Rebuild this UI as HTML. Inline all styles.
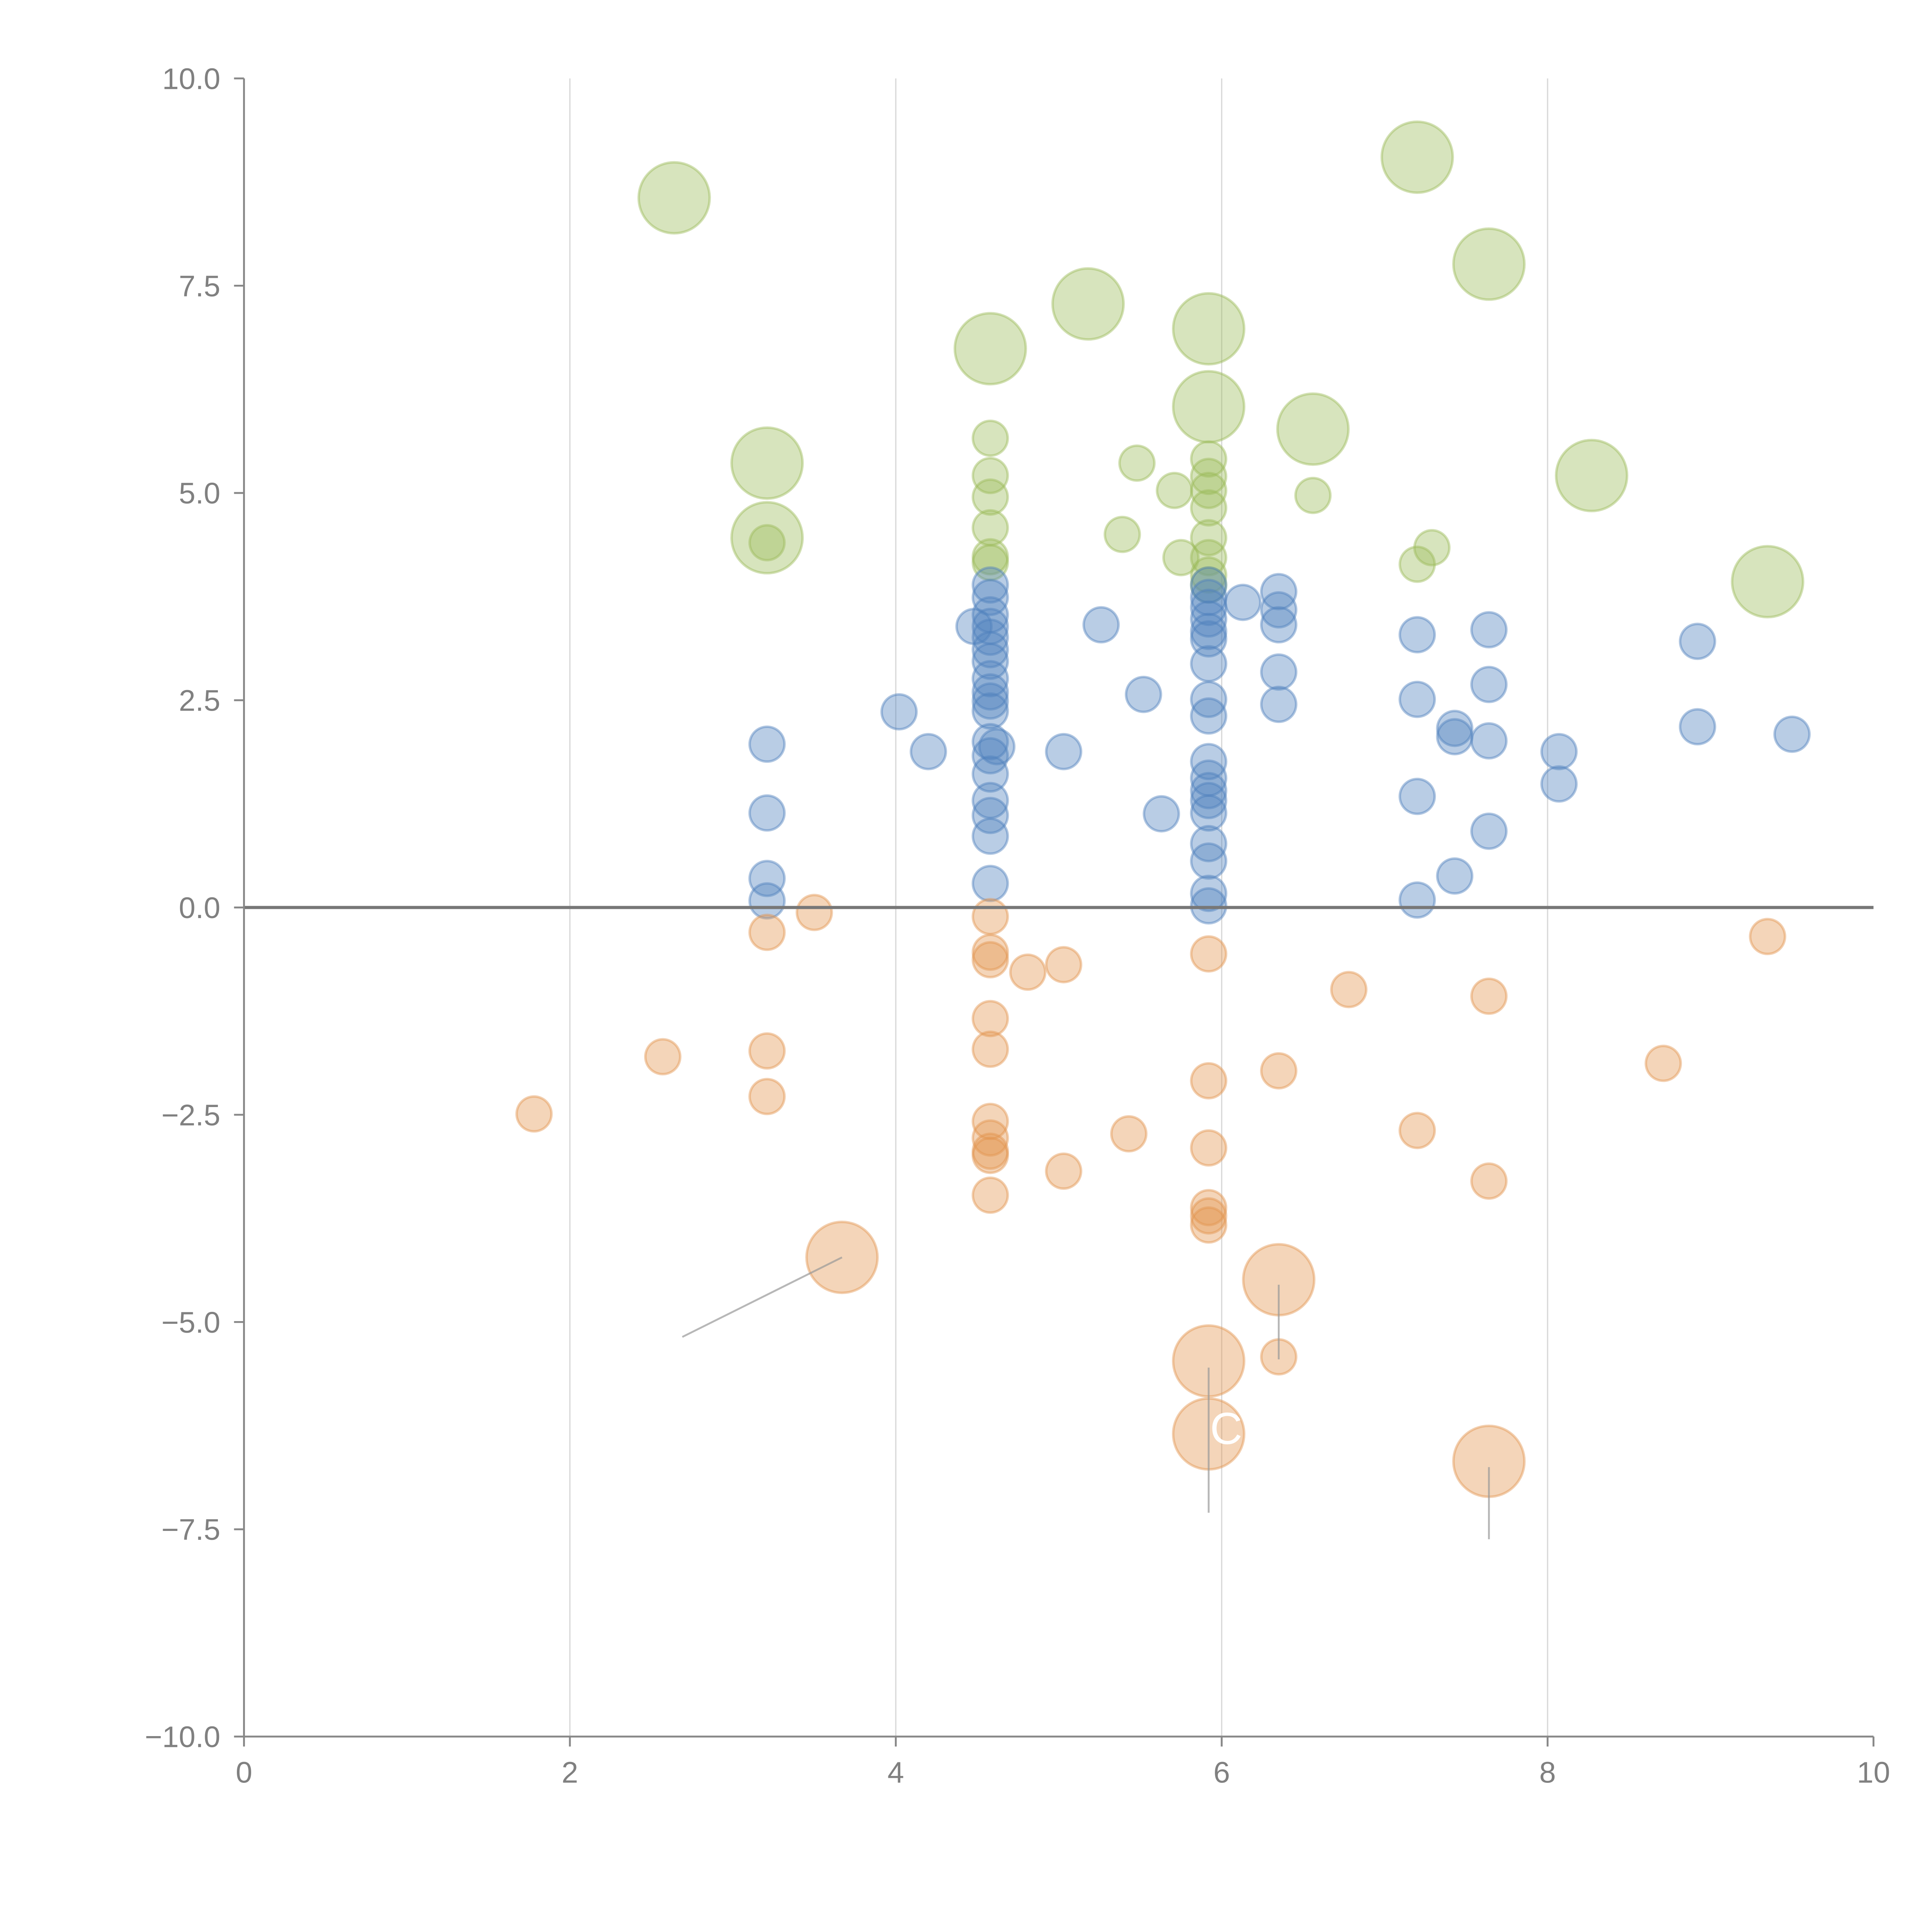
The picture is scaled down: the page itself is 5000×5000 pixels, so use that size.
<!DOCTYPE html>
<html><head><meta charset="utf-8"><style>
html,body{margin:0;padding:0;background:#fff;}
svg{display:block;}
text{font-family:"Liberation Sans",sans-serif;fill:#808080;}
</style></head><body>
<svg id="chart" width="5000" height="5000" viewBox="0 0 1552 1552" xmlns="http://www.w3.org/2000/svg">
<g id="grid"></g>
<g id="marks"></g>
<g id="axes"></g>
</svg>
<script>
const xTicks=[0,2,4,6,8,10];
const yTicks=[-10,-7.5,-5,-2.5,0,2.5,5,7.5,10];
const yTickLabels=["−10.0","−7.5","−5.0","−2.5","0.0","2.5","5.0","7.5","10.0"];
const blueX=[3.21,3.21,3.21,3.21,4.02,4.20,4.48,4.58,4.58,4.58,4.58,4.58,4.58,4.58,4.58,4.58,4.58,4.58,4.58,4.58,4.58,4.58,4.58,4.58,4.58,4.62,5.03,5.26,5.52,5.63,5.92,5.92,5.92,5.92,5.92,5.92,5.92,5.92,5.92,5.92,5.92,5.92,5.92,5.92,5.92,5.92,5.92,5.92,6.13,6.35,6.35,6.35,6.35,6.35,7.20,7.20,7.20,7.20,7.43,7.43,7.43,7.64,7.64,7.64,7.64,8.07,8.07,8.92,8.92,9.50];
const blueY=[1.97,1.14,0.35,0.08,2.36,1.88,3.39,3.89,3.74,3.53,3.39,3.26,3.11,2.97,2.76,2.60,2.49,2.37,2.00,1.83,1.61,1.29,1.11,0.86,0.29,1.94,1.88,3.41,2.57,1.13,3.89,3.74,3.62,3.48,3.33,3.24,2.94,2.51,2.31,1.76,1.56,1.41,1.29,1.14,0.77,0.56,0.17,0.02,3.68,3.81,3.59,3.41,2.84,2.45,3.29,2.51,1.34,0.09,2.16,2.06,0.38,3.35,2.69,2.01,0.92,1.88,1.49,3.21,2.18,2.09];
const orangeX=[1.78,2.57,3.21,3.21,3.21,3.50,4.58,4.58,4.58,4.58,4.58,4.58,4.58,4.58,4.58,4.58,4.81,5.03,5.03,5.43,5.92,5.92,5.92,5.92,5.92,5.92,6.35,6.35,6.78,7.20,7.64,7.64,8.71,9.35];
const orangeY=[-2.49,-1.80,-0.30,-1.73,-2.28,-0.06,-0.11,-0.54,-0.63,-1.34,-1.71,-2.58,-2.78,-2.94,-2.99,-3.47,-0.78,-0.69,-3.18,-2.73,-0.56,-2.09,-2.90,-3.62,-3.72,-3.83,-1.97,-5.42,-0.99,-2.69,-1.07,-3.30,-1.88,-0.35];
const orangeBigX=[3.67,6.35,5.92,5.92,7.64];
const orangeBigY=[-4.22,-4.49,-5.47,-6.35,-6.68];
const greenX=[4.58,4.58,4.58,4.58,4.58,4.58,5.48,5.71,5.39,5.75,5.92,5.92,5.92,5.92,5.92,5.92,5.92,5.92,6.56,7.29,7.20,3.21];
const greenY=[5.66,5.21,4.95,4.58,4.23,4.16,5.36,5.03,4.50,4.22,5.41,5.20,5.03,4.82,4.46,4.22,4.01,3.89,4.97,4.34,4.14,4.40];
const greenBigX=[2.64,7.20,7.64,5.18,4.58,5.92,5.92,6.56,8.27,3.21,3.21,9.35];
const greenBigY=[8.56,9.05,7.76,7.28,6.74,6.98,6.04,5.77,5.21,5.36,4.46,3.93];
const leaderFromX=[3.67,6.35,5.92,7.64];
const leaderFromY=[-4.22,-4.55,-5.55,-6.75];
const leaderToX=[2.69,6.35,5.92,7.64];
const leaderToY=[-5.18,-5.45,-7.30,-7.62];

const NS="http://www.w3.org/2000/svg";
const X0=196,X1=1505,Y0=1395,Y1=63;
function sx(v){return X0+(v-0)/(10-0)*(X1-X0);}
function sy(v){return Y0-(v+10)/20*(Y0-Y1);}
function mk(tag,attrs,parent){const e=document.createElementNS(NS,tag);for(const k in attrs)e.setAttribute(k,attrs[k]);parent.appendChild(e);return e;}
const grid=document.getElementById('grid'),marks=document.getElementById('marks'),axes=document.getElementById('axes');

xTicks.forEach(t=>{if(t>0&&t<10){const l=mk('line',{x1:sx(t),x2:sx(t),y1:Y1,y2:Y0,stroke:'#d8d8d8','stroke-width':1},grid);

}});

function bubbles(xs,ys,r,col,name){
  for(let i=0;i<xs.length;i++){
    const c=mk('circle',{cx:sx(xs[i]),cy:sy(ys[i]),r:r,fill:col,'fill-opacity':0.4,stroke:col,'stroke-opacity':0.45,'stroke-width':2},marks);
    
    
  }
}
bubbles(greenBigX,greenBigY,28.5,'#9bbb59','green-large-bubble');
bubbles(greenX,greenY,14,'#9bbb59','green-bubble');
bubbles(blueX,blueY,14,'#4f81bd','blue-bubble');
bubbles(orangeX,orangeY,14,'#e39550','orange-bubble');
bubbles(orangeBigX,orangeBigY,28.5,'#e39550','orange-large-bubble');

for(let i=0;i<leaderFromX.length;i++){
  const l=mk('line',{x1:sx(leaderFromX[i]),y1:sy(leaderFromY[i]),x2:sx(leaderToX[i]),y2:sy(leaderToY[i]),stroke:'#999','stroke-opacity':0.7,'stroke-width':1.5},marks);
  
  
}
const lc=mk('text',{x:972,y:1160,'font-size':36},marks);lc.textContent='C';lc.style.fill='#fff';



const zl=mk('line',{x1:X0,x2:X1,y1:sy(0),y2:sy(0),stroke:'#777','stroke-width':2.5},axes);


const ya=mk('line',{x1:X0,x2:X0,y1:Y1,y2:Y0,stroke:'#888','stroke-width':1.5},axes);


const xa=mk('line',{x1:X0,x2:X1,y1:Y0,y2:Y0,stroke:'#888','stroke-width':1.5},axes);


yTicks.forEach((t,i)=>{
  const tk=mk('line',{x1:X0-8,x2:X0,y1:sy(t),y2:sy(t),stroke:'#888','stroke-width':1.5},axes);
  
  
  const tx=mk('text',{x:X0-19,y:sy(t)+8.5,'text-anchor':'end','font-size':24},axes);
  tx.textContent=yTickLabels[i];
  
  
});
xTicks.forEach(t=>{
  const tk=mk('line',{x1:sx(t),x2:sx(t),y1:Y0,y2:Y0+8,stroke:'#888','stroke-width':1.5},axes);
  
  
  const tx=mk('text',{x:sx(t),y:Y0+37,'text-anchor':'middle','font-size':24},axes);
  tx.textContent=String(t);
  
  
});
</script>
</body></html>
